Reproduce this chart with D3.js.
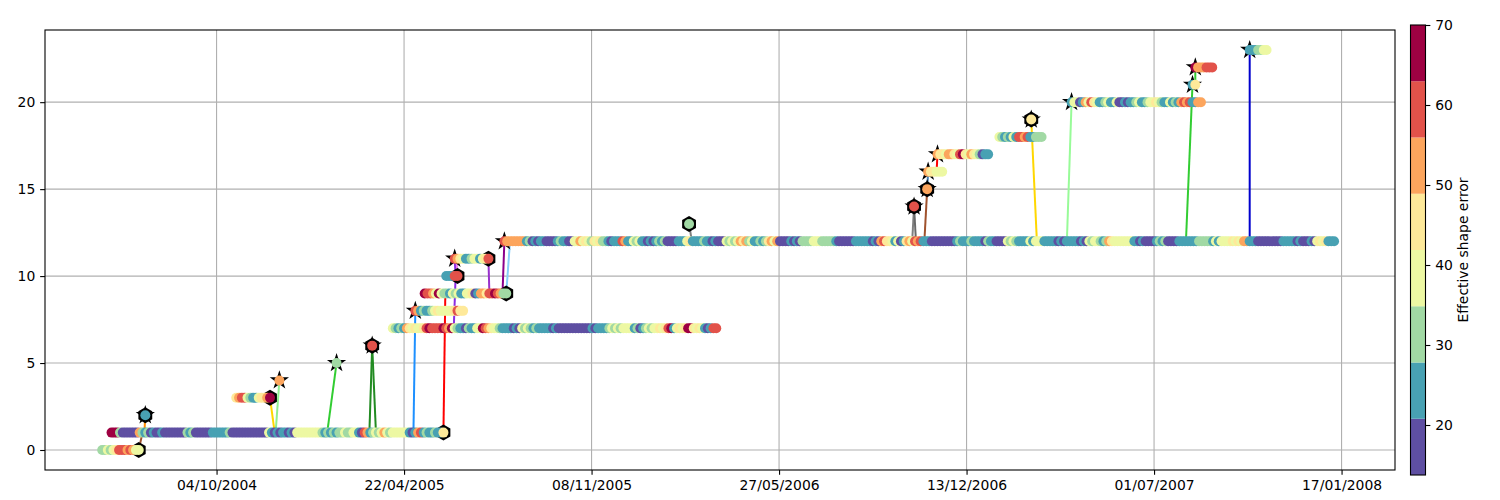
<!DOCTYPE html>
<html>
<head>
<meta charset="utf-8">
<script src="https://cdn.jsdelivr.net/npm/d3@7"></script>
<style>
body { margin: 0; background: #fff; }
svg text { font-family: "DejaVu Sans", sans-serif; }
</style>
</head>
<body>
<svg id="canvas" width="1500" height="500"></svg>
<script>
// ****************************************************************** //
// Data

// colour classes: each digit in a track string is one observation
var errorLevels = [17, 24, 31, 38, 45, 52, 59, 66];
var colorBins = ["#5e4fa2", "#48a1b3", "#a1d9a4", "#edf8a3", "#fee99a", "#fca55d", "#e2524a", "#9e0142"];
var errorDomain = [13.75, 70];
var colorbarTicks = [20, 30, 40, 50, 60, 70];

var xDomain = ["2004-04-04", "2008-03-14"];
var yDomain = [-1.15, 24.15];
var xTicks = ["2004-10-04", "2005-04-22", "2005-11-08", "2006-05-27", "2006-12-13", "2007-07-01", "2008-01-17"];
var yTicks = [0, 5, 10, 15, 20];

var stepDays = 3;

var trackLevels = [0, 1, 2, 3, 4, 5, 6, 7, 8, 9, 10, 11, 12, 13, 14, 15, 16, 17, 18, 19, 20, 21, 22, 23];
var trackStarts = ["2004-06-04", "2004-06-14", "2004-07-20", "2004-10-25", "2004-12-10", "2005-02-09",
  "2005-03-19", "2005-04-10", "2005-05-04", "2005-05-14", "2005-06-06", "2005-06-15",
  "2005-08-07", "2006-02-20", "2006-10-18", "2006-11-01", "2006-11-02", "2006-11-12",
  "2007-01-17", "2007-02-20", "2007-04-04", "2007-08-11", "2007-08-14", "2007-10-11"];
var trackErrors = [
  "22323466656533",
  "777" + "2" + "000000" + "5212" + "01001" + "00000000" + "212" + "000000" + "111111" + "2" +
    "0000000000000" + "31" + "01011010" + "333333333" + "2121212" + "232233" + "10651" +
    "2323532333333" + "101" + "56" + "1211211" + "4",
  "1",
  "4566321134457",
  "5",
  "2",
  "6",
  "321215434334" + "6766667657" + "3211021133" + "7654332111" + "1010323212" + "111110100" +
    "0000000000" + "1011112323" + "2333312012" + "3233434671" + "3434774343" + "10166",
  "651211234333334644",
  "766537322132311334015546676522",
  "11166",
  "6543112331346",
  "6" + "5555555" + "12" + "010" + "11" + "0000" + "121" + "100" + "33" + "534" + "32" + "434" +
    "22" + "101" + "11" + "65" + "11" + "323" + "11" + "0101" + "212" + "0000" + "111" + "34" +
    "1111" + "21" + "1010" + "00" + "3232" + "3545" + "23" + "11" + "212" + "45" + "35" + "0000" +
    "101" + "0" + "2222" + "333" + "22222" + "1" + "000000" + "111111" + "010" + "56" + "44" +
    "313" + "01" + "4" + "53" + "656" + "111" + "000000000" + "121112" + "111" + "1021" + "10" +
    "000" + "3232" + "111" + "1313" + "33" + "11111" + "010" + "1111" + "1010" + "3233" + "212" +
    "5433" + "33333" + "11" + "010" + "000" + "1212" + "0000" + "1111111" + "22222" + "1313" +
    "333" + "4343" + "55" + "111" + "000000000" + "11111" + "0100010" + "3434" + "111",
  "2",
  "6",
  "5",
  "544333",
  "5443554367435432011",
  "3212131665611222",
  "4",
  "13301536431123113001011231123343211312156561155",
  "14",
  "7555666",
  "1112233"
];
// star = split from a parent, hexagon = merged into another track
var trackStar = [0,0,1,0,1,1,1,0,1,0,0,1,1,0,1,1,1,1,0,1,1,1,1,1];
var trackHex  = [1,1,1,1,0,0,1,0,0,1,1,1,0,1,1,1,0,0,0,1,0,0,0,0];

var links = [
  ["2004-07-13", 0, "2004-07-17", 1, "#a0522d"],
  ["2004-07-19", 1, "2004-07-20", 2, "#ff8c00"],
  ["2004-11-30", 3, "2004-12-05", 1, "#ffd700"],
  ["2004-12-06", 1, "2004-12-10", 4, "#90ee90"],
  ["2005-01-30", 1, "2005-02-09", 5, "#32cd32"],
  ["2005-03-16", 1, "2005-03-19", 6, "#228b22"],
  ["2005-03-19", 6, "2005-03-23", 1, "#228b22"],
  ["2005-05-02", 1, "2005-05-04", 8, "#1e90ff"],
  ["2005-06-03", 1, "2005-06-05", 9, "#ff0000"],
  ["2005-06-14", 7, "2005-06-16", 10, "#8a2be2"],
  ["2005-06-16", 10, "2005-06-15", 11, "#8a2be2"],
  ["2005-06-18", 10, "2005-06-17", 11, "#ee82ee"],
  ["2005-07-21", 11, "2005-07-22", 9, "#9932cc"],
  ["2005-08-05", 9, "2005-08-07", 12, "#8b008b"],
  ["2005-08-09", 9, "2005-08-13", 12, "#87cefa"],
  ["2006-02-20", 13, "2006-02-23", 12, "#808080"],
  ["2006-10-16", 12, "2006-10-18", 14, "#808080"],
  ["2006-10-18", 14, "2006-10-20", 12, "#696969"],
  ["2006-10-29", 12, "2006-11-01", 15, "#a0522d"],
  ["2006-11-01", 15, "2006-11-02", 16, "#4682b4"],
  ["2006-11-11", 16, "2006-11-12", 17, "#ff0000"],
  ["2007-02-20", 19, "2007-02-26", 12, "#ffd700"],
  ["2007-03-30", 12, "2007-04-04", 20, "#98fb98"],
  ["2007-08-04", 12, "2007-08-11", 21, "#32cd32"],
  ["2007-08-14", 21, "2007-08-14", 22, "#32cd32"],
  ["2007-10-11", 12, "2007-10-11", 23, "#0000cd"]
];

// ****************************************************************** //
// Scales

var parse = d3.utcParse("%Y-%m-%d");
var plotLeft = 45, plotRight = 1395, plotTop = 30, plotBottom = 470;

var x = d3.scaleUtc().domain(xDomain.map(parse)).range([plotLeft, plotRight]);
var y = d3.scaleLinear().domain(yDomain).range([plotBottom, plotTop]);
var color = d3.scaleQuantize().domain(errorDomain).range(colorBins);

var svg = d3.select('#canvas');
svg.append('rect').attr('width', 1500).attr('height', 500).attr('fill', '#fff');

// expand tracks into observations
var points = [], starts = [], ends = [];
trackErrors.forEach(function(codes, k) {
  var t0 = parse(trackStarts[k]);
  for (var i = 0; i < codes.length; i++) {
    points.push({ date: d3.utcDay.offset(t0, i * stepDays), level: trackLevels[k], err: errorLevels[+codes[i]] });
  }
  if (trackStar[k]) starts.push(points[points.length - codes.length]);
  if (trackHex[k]) ends.push(points[points.length - 1]);
});

// ****************************************************************** //
// Grid

var grid = svg.append('g').attr('stroke', '#b0b0b0').attr('stroke-width', 1.1);
grid.selectAll('.gx').data(xTicks).enter().append('line')
  .attr('x1', function(d){ return x(parse(d)); }).attr('x2', function(d){ return x(parse(d)); })
  .attr('y1', plotTop).attr('y2', plotBottom);
grid.selectAll('.gy').data(yTicks).enter().append('line')
  .attr('x1', plotLeft).attr('x2', plotRight)
  .attr('y1', function(d){ return y(d); }).attr('y2', function(d){ return y(d); });

// ****************************************************************** //
// Links, markers, dots

var plot = svg.append('g');
plot.selectAll('.link').data(links).enter().append('line')
  .attr('x1', function(d){ return x(parse(d[0])); })
  .attr('y1', function(d){ return y(d[1]); })
  .attr('x2', function(d){ return x(parse(d[2])); })
  .attr('y2', function(d){ return y(d[3]); })
  .attr('stroke', function(d){ return d[4]; })
  .attr('stroke-width', 2);

function hexPath(r) {
  var pts = d3.range(6).map(function(k) {
    var a = (-90 + 60 * k) * Math.PI / 180;
    return [r * Math.cos(a), r * Math.sin(a)];
  });
  return 'M' + pts.join('L') + 'Z';
}

plot.selectAll('.star').data(starts).enter().append('path')
  .attr('d', d3.symbol(d3.symbolStar).size(115))
  .attr('transform', function(d){ return 'translate(' + x(d.date) + ',' + y(d.level) + ')'; })
  .attr('fill', '#000');

plot.selectAll('.hex').data(ends).enter().append('path')
  .attr('d', hexPath(8))
  .attr('transform', function(d){ return 'translate(' + x(d.date) + ',' + y(d.level) + ')'; })
  .attr('fill', '#000');

plot.selectAll('.dot').data(points).enter().append('circle')
  .attr('cx', function(d){ return x(d.date); })
  .attr('cy', function(d){ return y(d.level); })
  .attr('r', 5)
  .attr('fill', function(d){ return color(d.err); });

// ****************************************************************** //
// Axes

var tick = 4.86;
var xAxis = svg.append('g').attr('transform', 'translate(0,' + plotBottom + ')')
  .call(d3.axisBottom(x).tickValues(xTicks.map(parse)).tickFormat(d3.utcFormat('%d/%m/%Y'))
    .tickSize(tick).tickPadding(tick));
var yAxis = svg.append('g').attr('transform', 'translate(' + plotLeft + ',0)')
  .call(d3.axisLeft(y).tickValues(yTicks).tickSize(tick).tickPadding(tick));
[xAxis, yAxis].forEach(function(a) {
  a.select('.domain').remove();
  a.selectAll('text').attr('font-size', 13.9).attr('fill', '#000').attr('font-family', '"DejaVu Sans", sans-serif');
  a.selectAll('line').attr('stroke', '#000').attr('stroke-width', 1.1);
});

svg.append('rect').attr('x', plotLeft).attr('y', plotTop)
  .attr('width', plotRight - plotLeft).attr('height', plotBottom - plotTop)
  .attr('fill', 'none').attr('stroke', '#000').attr('stroke-width', 1.1);

// ****************************************************************** //
// Colorbar

var cbX = 1410.5, cbW = 15;
var cbY = d3.scaleLinear().domain(errorDomain).range([475, 25]);
var bins = colorBins.map(function(c) { return { c: c, ext: color.invertExtent(c) }; });
svg.append('g').selectAll('rect').data(bins).enter().append('rect')
  .attr('x', cbX).attr('width', cbW)
  .attr('y', function(d){ return cbY(d.ext[1]); })
  .attr('height', function(d){ return cbY(d.ext[0]) - cbY(d.ext[1]); })
  .attr('fill', function(d){ return d.c; });
svg.append('rect').attr('x', cbX).attr('y', 25).attr('width', cbW).attr('height', 450)
  .attr('fill', 'none').attr('stroke', '#000').attr('stroke-width', 1.1);

var cbAxis = svg.append('g').attr('transform', 'translate(' + (cbX + cbW) + ',0)')
  .call(d3.axisRight(cbY).tickValues(colorbarTicks).tickSize(tick).tickPadding(tick));
cbAxis.select('.domain').remove();
cbAxis.selectAll('text').attr('font-size', 13.9).attr('fill', '#000').attr('font-family', '"DejaVu Sans", sans-serif');
cbAxis.selectAll('line').attr('stroke', '#000').attr('stroke-width', 1.1);

svg.append('text')
  .attr('transform', 'translate(1463,250) rotate(-90)')
  .attr('text-anchor', 'middle').attr('dy', '0.35em')
  .attr('font-size', 13.9)
  .text('Effective shape error');
</script>
</body>
</html>
